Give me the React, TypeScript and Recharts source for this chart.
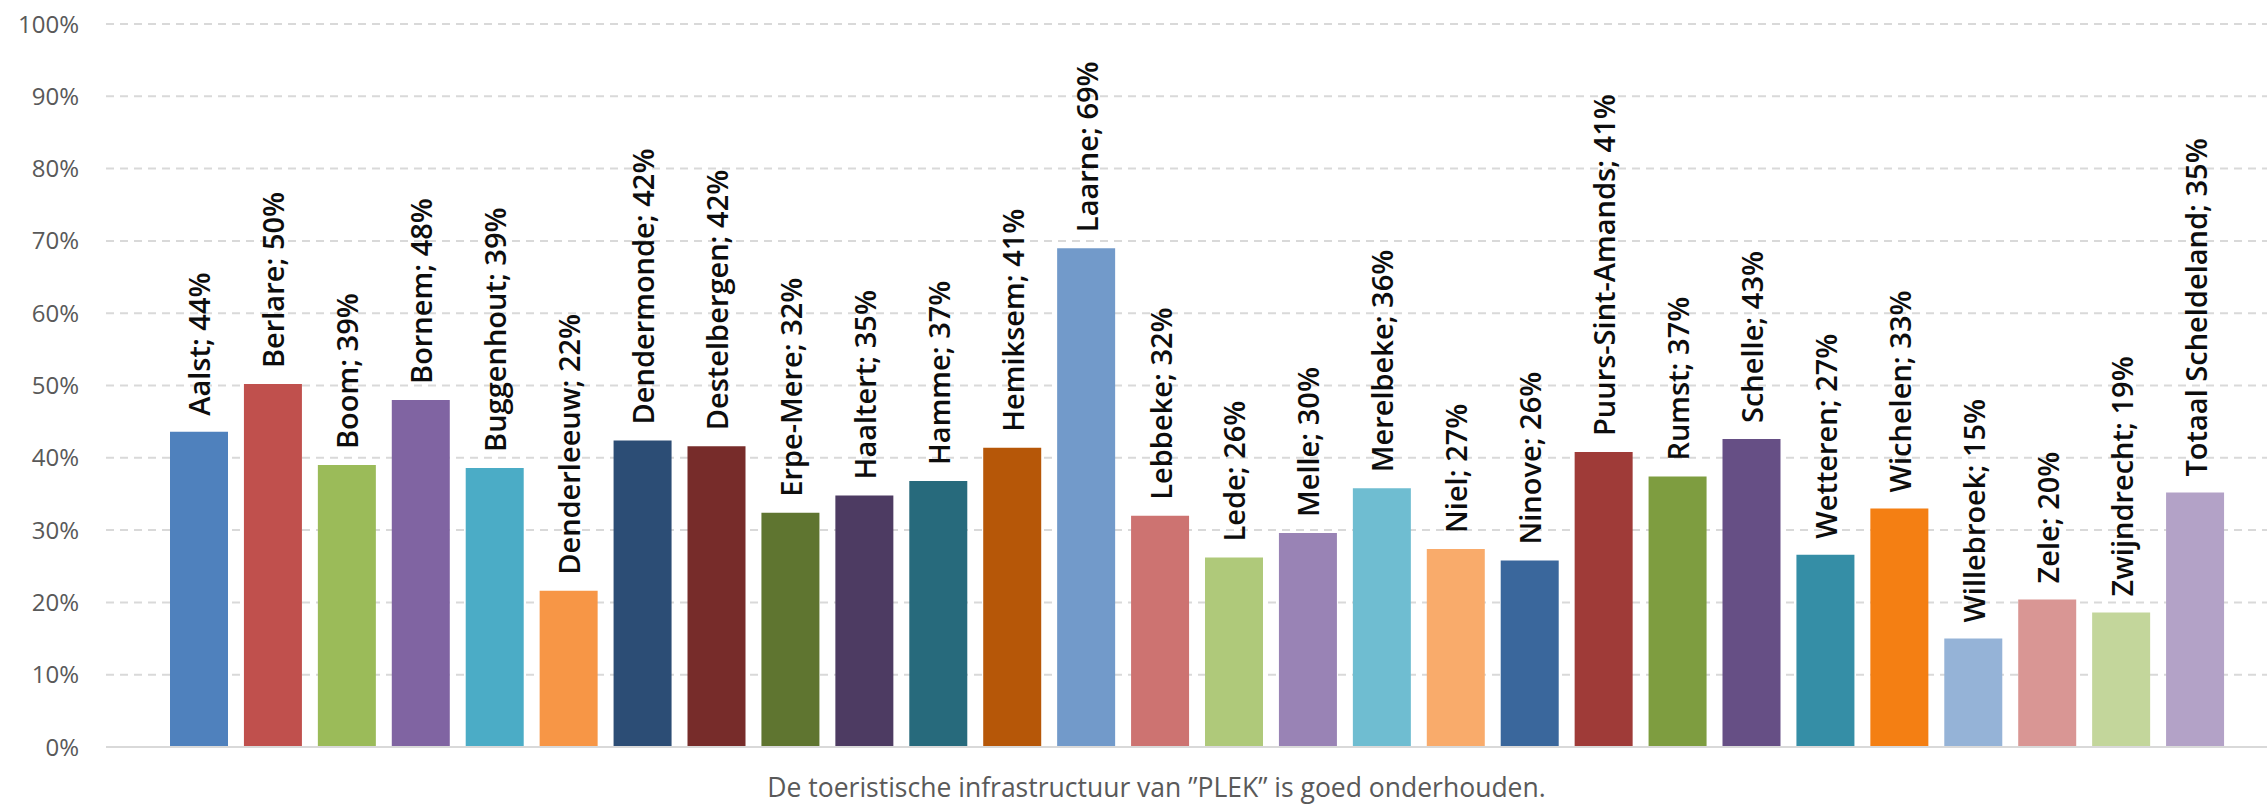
import { BarChart, Bar, XAxis, YAxis, CartesianGrid, Cell, LabelList } from "recharts";

const gemeenten = [
  "Aalst", "Berlare", "Boom", "Bornem", "Buggenhout", "Denderleeuw", "Dendermonde",
  "Destelbergen", "Erpe-Mere", "Haaltert", "Hamme", "Hemiksem", "Laarne", "Lebbeke",
  "Lede", "Melle", "Merelbeke", "Niel", "Ninove", "Puurs-Sint-Amands", "Rumst",
  "Schelle", "Wetteren", "Wichelen", "Willebroek", "Zele", "Zwijndrecht", "Totaal Scheldeland",
];

// % akkoord
const akkoord = [
  43.6, 50.2, 39.0, 48.0, 38.6, 21.6, 42.4, 41.6, 32.4, 34.8, 36.8, 41.4, 69.0, 32.0,
  26.2, 29.6, 35.8, 27.4, 25.8, 40.8, 37.4, 42.6, 26.6, 33.0, 15.0, 20.4, 18.6, 35.2,
];

const kleuren = [
  "#4F81BD", "#C0504D", "#9BBB59", "#8064A2", "#4BACC6", "#F79646", "#2C4D75",
  "#772C2A", "#5F7530", "#4D3B62", "#276A7C", "#B65708", "#729ACA", "#CD7371",
  "#AFC97A", "#9983B5", "#6FBDD1", "#F9AB6B", "#3A679C", "#9F3B38", "#7E9D40",
  "#664F85", "#358EA6", "#F47F13", "#95B3D7", "#D99694", "#C3D69B", "#B3A2C7",
];

const yTicks = [0, 10, 20, 30, 40, 50, 60, 70, 80, 90, 100];
const titel = "De toeristische infrastructuur van \u201DPLEK\u201D is goed onderhouden.";

const data = gemeenten.map((naam, i) => ({
  naam,
  waarde: akkoord[i],
  label: `${naam}; ${Math.round(akkoord[i])}%`,
}));

function BarLabel(props: any) {
  const { x, y, width, value } = props;
  const cx = Number(x) + Number(width) / 2;
  const top = Number(y) - 16;
  return (
    <text
      x={cx}
      y={top}
      transform={`rotate(-90 ${cx} ${top})`}
      textAnchor="start"
      dominantBaseline="central"
      fontFamily="'Open Sans', sans-serif"
      fontWeight={600}
      fontSize={29}
      fill="#0d0d0d"
    >
      {value}
    </text>
  );
}

export default function App() {
  return (
    <div style={{ position: "absolute", left: 0, top: 0, width: 2267, height: 805, background: "#fff" }}>
      <BarChart
        width={2267}
        height={805}
        data={data}
        margin={{ top: 24, right: 0, bottom: 0, left: 0 }}
        barSize={58}
      >
        <CartesianGrid vertical={false} stroke="#d9d9d9" strokeWidth={2} strokeDasharray="8 6" />
        <XAxis
          dataKey="naam"
          tick={false}
          tickLine={false}
          axisLine={{ stroke: "#d9d9d9", strokeWidth: 2 }}
          padding={{ left: 56, right: 35 }}
          height={58}
          label={{
            value: titel,
            position: "insideBottom",
            offset: 8,
            dx: -30,
            fill: "#595959",
            fontSize: 26.5,
            fontFamily: "'Open Sans', sans-serif",
          }}
        />
        <YAxis
          domain={[0, 100]}
          ticks={yTicks}
          width={106}
          axisLine={false}
          tickLine={false}
          tickSize={0}
          tickMargin={27}
          tickFormatter={(v) => `${v}%`}
          tick={{ fill: "#595959", fontSize: 24, fontFamily: "'Open Sans', sans-serif" }}
        />
        <Bar dataKey="waarde" isAnimationActive={false}>
          {data.map((d, i) => (
            <Cell key={d.naam} fill={kleuren[i]} />
          ))}
          <LabelList dataKey="label" content={<BarLabel />} />
        </Bar>
      </BarChart>
    </div>
  );
}
